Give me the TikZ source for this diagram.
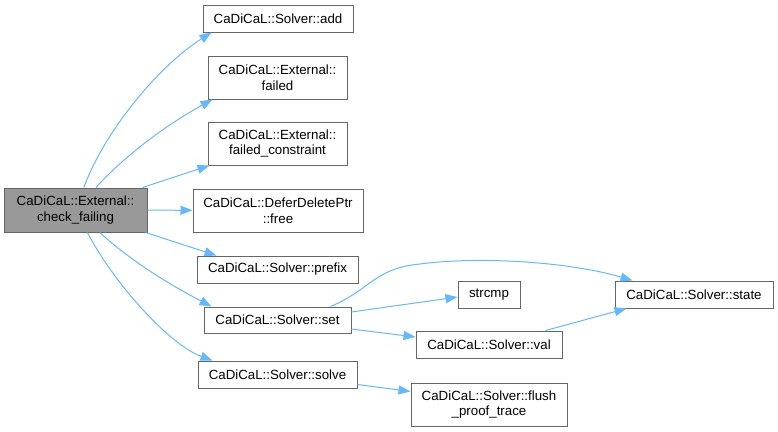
\documentclass[tikz,border=0pt]{standalone}
\usepackage{fontspec}
\setmainfont{Liberation Sans}
\usepackage{tikz}
\usetikzlibrary{arrows.meta,positioning}
\definecolor{callblue}{HTML}{63B8FF}

\begin{document}
\begin{tikzpicture}[x=1pt, y=-1pt,
    fn/.style={draw=black!60, line width=1pt, fill=white, inner sep=0pt, align=center,
      font=\fontsize{13.3}{15.5}\selectfont},
    cur/.style={fn, fill=black!40},
    call/.style={color=callblue, line width=1pt, -{Triangle[length=12pt,width=9pt]}}]
        \useasboundingbox (0,0) rectangle (778,431);

        \node[cur, minimum width=143pt, minimum height=44pt] (main) at (75.5,210) {CaDiCaL::External::\\check\_failing};

        \node[fn, minimum width=150pt, minimum height=27pt] (add) at (278,18.5) {CaDiCaL::Solver::add};
        \node[fn, minimum width=139pt, minimum height=43pt] (failed) at (277.5,77.5) {CaDiCaL::External::\\failed};
        \node[fn, minimum width=139pt, minimum height=43pt] (fconstr) at (277.5,143.5) {CaDiCaL::External::\\failed\_constraint};
        \node[fn, minimum width=170pt, minimum height=43pt] (free) at (278,210.5) {CaDiCaL::DeferDeletePtr\\::free};
        \node[fn, minimum width=161pt, minimum height=27pt] (prefix) at (277.5,269.5) {CaDiCaL::Solver::prefix};
        \node[fn, minimum width=147pt, minimum height=26pt] (set) at (277.5,320) {CaDiCaL::Solver::set};
        \node[fn, minimum width=159pt, minimum height=27pt] (solve) at (277.5,374.5) {CaDiCaL::Solver::solve};

        \node[fn, minimum width=62pt, minimum height=27pt] (strcmp) at (489,294.5) {strcmp};
        \node[fn, minimum width=146pt, minimum height=27pt] (val) at (489,344.5) {CaDiCaL::Solver::val};
        \node[fn, minimum width=156pt, minimum height=43pt] (flush) at (489,404.5) {CaDiCaL::Solver::flush\\\_proof\_trace};
        \node[fn, minimum width=158pt, minimum height=27pt] (state) at (694,294.5) {CaDiCaL::Solver::state};

        % calls from check_failing
        \draw[call] (main) .. controls (105,130) and (160,65) .. ([xshift=9pt]add.south west);
        \draw[call] (main) .. controls (130,150) and (175,120) .. ([xshift=5pt]failed.south west);
        \draw[call] (main) .. controls (135,265) and (180,290) .. ([xshift=8pt]set.north west);
        \draw[call] (main) .. controls (115,285) and (170,345) .. ([xshift=15pt]solve.north west);
        \path
          ([xshift=-5pt]main.north east) edge[call] ([xshift=2pt]fconstr.south west)
          (main) edge[call] (free)
          ([xshift=-2pt]main.south east) edge[call] ([xshift=20pt]prefix.north west);

        % calls further down
        \draw[call] ([xshift=-21pt]set.north east) .. controls (370,290) and (375,268) .. (420,264)
          .. controls (480,256) and (570,262) .. ([xshift=18pt]state.north west);
        \path
          ([yshift=8pt]set.east) edge[call] ([yshift=-2.5pt]strcmp.west)
          ([yshift=-9pt]set.east) edge[call] ([yshift=7.5pt]val.west)
          ([xshift=-17pt]val.north east) edge[call] ([xshift=12pt]state.south west)
          ([yshift=-10pt]solve.east) edge[call] ([yshift=13pt]flush.west);
  \end{tikzpicture}
\end{document}
